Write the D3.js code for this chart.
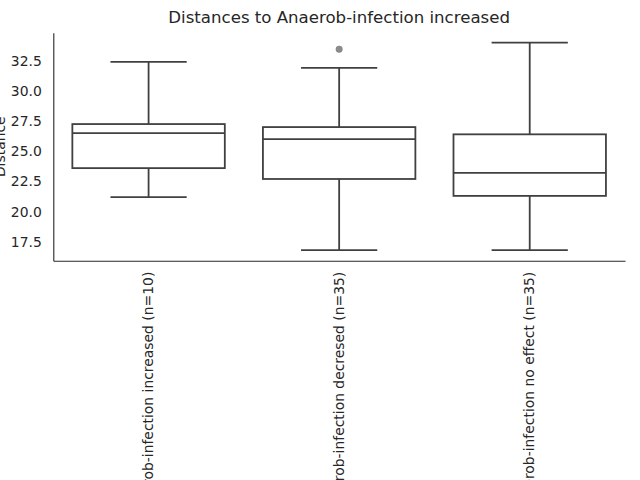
<!DOCTYPE html>
<html>
<head>
<meta charset="utf-8">
<script src="https://cdn.jsdelivr.net/npm/d3@7"></script>
<style>
  body { margin: 0; background: #fff; }
  svg { display: block; }
  svg text { font-family: "DejaVu Sans", sans-serif; }
</style>
</head>
<body>
<div class="box-chart-container"></div>
<script>
// data
const groups = [
  'Anaerob-infection increased (n=10)',
  'Anaerob-infection decresed (n=35)',
  'Anaerob-infection no effect (n=35)'
];
const whiskerLow = [21.2, 16.8, 16.8];
const q1 = [23.6, 22.7, 21.3];
const median = [26.5, 26.0, 23.2];
const q3 = [27.25, 27.0, 26.4];
const whiskerHigh = [32.4, 31.9, 34.0];
const outliers = [[], [33.45], []];
const yTicks = [17.5, 20.0, 22.5, 25.0, 27.5, 30.0, 32.5];

const containerWidth = 640;
const containerHeight = 480;
const margin = { top: 32.7, right: 15, bottom: 219.3, left: 53.3 };
const width = containerWidth - margin.left - margin.right;
const height = containerHeight - margin.top - margin.bottom;

const ink = '#404040';
const textColor = '#262626';
const font = '"DejaVu Sans", sans-serif';

const svg = d3.select('.box-chart-container')
  .append('svg')
  .attr('width', containerWidth)
  .attr('height', containerHeight)
  .style('overflow', 'hidden');

const g = svg.append('g')
  .attr('transform', `translate(${margin.left}, ${margin.top})`);

const data = groups.map((name, i) => ({
  name,
  lo: whiskerLow[i], q1: q1[i], med: median[i], q3: q3[i], hi: whiskerHigh[i],
  out: outliers[i]
}));

const xScale = d3.scaleBand()
  .domain(groups)
  .range([0, width])
  .paddingInner(0)
  .paddingOuter(0);

const yScale = d3.scaleLinear()
  .domain([15.93, 34.82])
  .range([height, 0]);

const boxW = xScale.bandwidth() * 0.8;
const capW = boxW / 2;

// axes (no tick marks, seaborn white style)
const yAxis = g.append('g')
  .call(d3.axisLeft(yScale).tickValues(yTicks).tickSize(0).tickPadding(11.5).tickFormat(d3.format('.1f')));
yAxis.attr('font-family', font);
yAxis.select('.domain').attr('stroke', textColor).attr('stroke-width', 1.1);
yAxis.selectAll('text').attr('fill', textColor).style('font-size', '13.9px');

const xAxis = g.append('g')
  .attr('transform', `translate(0, ${height})`)
  .call(d3.axisBottom(xScale).tickSize(0));
xAxis.attr('font-family', font);
xAxis.select('.domain').attr('stroke', textColor).attr('stroke-width', 1.1);
xAxis.selectAll('text')
  .attr('fill', textColor)
  .style('font-size', '13.9px')
  .attr('transform', 'rotate(-90)')
  .attr('x', -11)
  .attr('y', 0)
  .attr('dy', '0.32em')
  .attr('text-anchor', 'end');

const box = g.selectAll('.box')
  .data(data)
  .enter()
  .append('g')
  .attr('class', 'box')
  .attr('transform', d => `translate(${xScale(d.name) + xScale.bandwidth() / 2}, 0)`);

// whiskers
box.append('line')
  .attr('x1', 0).attr('x2', 0)
  .attr('y1', d => yScale(d.q3)).attr('y2', d => yScale(d.hi))
  .attr('stroke', ink).attr('stroke-width', 1.8);
box.append('line')
  .attr('x1', 0).attr('x2', 0)
  .attr('y1', d => yScale(d.q1)).attr('y2', d => yScale(d.lo))
  .attr('stroke', ink).attr('stroke-width', 1.8);
box.append('line')
  .attr('x1', -capW / 2).attr('x2', capW / 2)
  .attr('y1', d => yScale(d.hi)).attr('y2', d => yScale(d.hi))
  .attr('stroke', ink).attr('stroke-width', 1.8);
box.append('line')
  .attr('x1', -capW / 2).attr('x2', capW / 2)
  .attr('y1', d => yScale(d.lo)).attr('y2', d => yScale(d.lo))
  .attr('stroke', ink).attr('stroke-width', 1.8);

// box
box.append('rect')
  .attr('x', -boxW / 2)
  .attr('width', boxW)
  .attr('y', d => yScale(d.q3))
  .attr('height', d => yScale(d.q1) - yScale(d.q3))
  .attr('fill', '#fff')
  .attr('stroke', ink).attr('stroke-width', 1.8);

// median
box.append('line')
  .attr('x1', -boxW / 2).attr('x2', boxW / 2)
  .attr('y1', d => yScale(d.med)).attr('y2', d => yScale(d.med))
  .attr('stroke', ink).attr('stroke-width', 1.8);

// outliers
box.selectAll('.flier')
  .data(d => d.out)
  .enter()
  .append('circle')
  .attr('class', 'flier')
  .attr('cx', 0)
  .attr('cy', d => yScale(d))
  .attr('r', 3.2)
  .attr('fill', '#8c8c8c')
  .attr('stroke', '#7a7a7a')
  .attr('stroke-width', 0.6);

// title and y label
svg.append('text')
  .attr('x', margin.left + width / 2)
  .attr('y', 23.3)
  .attr('text-anchor', 'middle')
  .attr('fill', textColor)
  .style('font-size', '16.6px')
  .text('Distances to Anaerob-infection increased');

svg.append('text')
  .attr('transform', `translate(5, ${margin.top + height / 2}) rotate(-90)`)
  .attr('text-anchor', 'middle')
  .attr('fill', textColor)
  .style('font-size', '13.9px')
  .text('Distance');
</script>
</body>
</html>
